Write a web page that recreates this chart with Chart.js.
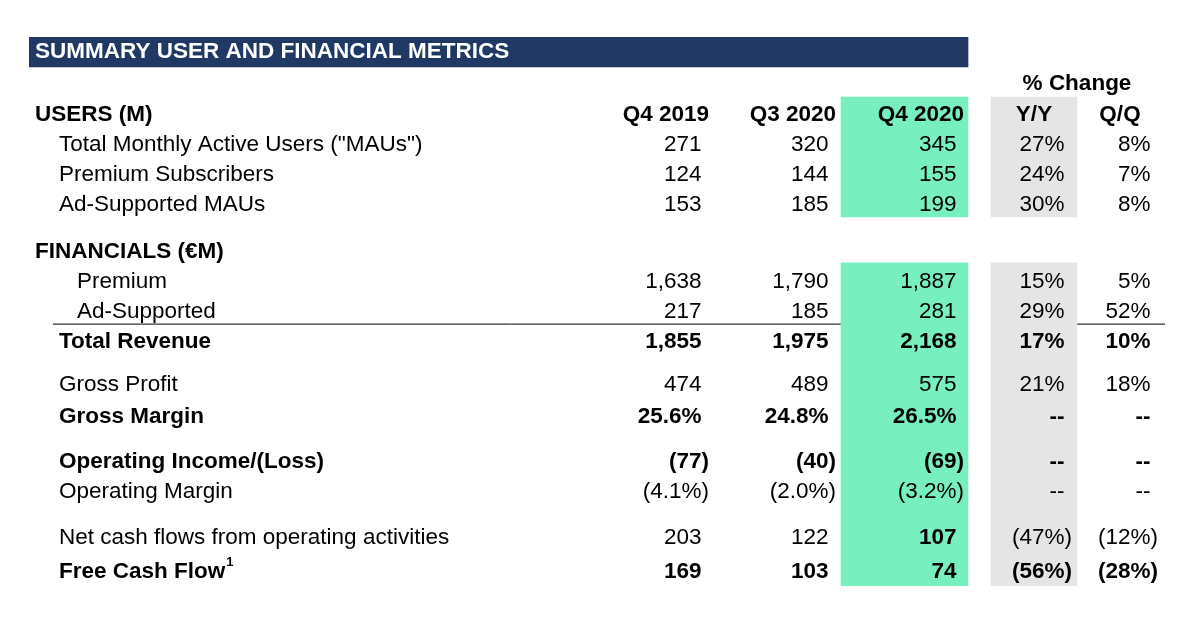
<!DOCTYPE html>
<html>
<head>
<meta charset="utf-8">
<script src="https://cdn.jsdelivr.net/npm/chart.js@4.4.1/dist/chart.umd.min.js"></script>
<style>
  html, body { margin: 0; padding: 0; background: #fff; }
  canvas { display: block; }
</style>
</head>
<body>
<canvas id="metrics-table" width="1200" height="627"></canvas>
<script>
// Table data
var title = 'SUMMARY USER AND FINANCIAL METRICS';
var changeTitle = '% Change';
var periods = ['Q4 2019', 'Q3 2020', 'Q4 2020'];
var changes = ['Y/Y', 'Q/Q'];
var sections = ['USERS (M)', 'FINANCIALS (€M)'];
var rowLabels = [
  'Total Monthly Active Users ("MAUs")',
  'Premium Subscribers',
  'Ad-Supported MAUs',
  'Premium',
  'Ad-Supported',
  'Total Revenue',
  'Gross Profit',
  'Gross Margin',
  'Operating Income/(Loss)',
  'Operating Margin',
  'Net cash flows from operating activities',
  'Free Cash Flow'
];
var q42019 = [271, 124, 153, 1638, 217, 1855, 474, 25.6, -77, -4.1, 203, 169];
var q32020 = [320, 144, 185, 1790, 185, 1975, 489, 24.8, -40, -2.0, 122, 103];
var q42020 = [345, 155, 199, 1887, 281, 2168, 575, 26.5, -69, -3.2, 107, 74];
var yoy = [27, 24, 30, 15, 29, 17, 21, null, null, null, -47, -56];
var qoq = [8, 7, 8, 5, 52, 10, 18, null, null, null, -12, -28];

// Row formats: n = number, p = percent with one decimal
var rowFormat = ['n', 'n', 'n', 'n', 'n', 'n', 'n', 'p', 'n', 'p', 'n', 'n'];
var boldRows = [false, false, false, false, false, true, false, true, true, false, false, true];
var boldCells = [[10, 2]]; // net cash flow, Q4 2020
var indentLevel = [1, 1, 1, 2, 2, 1, 1, 1, 1, 1, 1, 1];

// Layout (x in table units across the table width, y in row slots)
var rowSlot = [1, 2, 3, 5.57, 6.57, 7.57, 9, 10.07, 11.57, 12.57, 14.1, 15.22];
var sectionSlot = [0, 4.57];
var headerSlot = 0, changeTitleSlot = -1.03, titleSlot = -2.1;
var indentX = [6, 30, 48];
var colRight = [680, 807, 935, 1043, 1129];
var changeCenter = [1005, 1091];
var superNote = '1';

var FONT = '"Liberation Sans", Arial, sans-serif';
var SIZE = '22.5px ';

function fmt(v, kind) {
  if (v === null) return '--';
  var a = Math.abs(v);
  var s;
  if (kind === 'p') s = a.toFixed(1) + '%';
  else if (kind === 'c') s = a + '%';
  else s = a.toLocaleString('en-US');
  return v < 0 ? '(' + s + ')' : s;
}

function isBoldCell(r, c) {
  if (boldRows[r]) return true;
  return boldCells.some(function(b) { return b[0] === r && b[1] === c; });
}

// Draws the text of every cell at positions taken from the chart scales
var tableText = {
  id: 'tableText',
  afterDatasetsDraw: function(chart) {
    var ctx = chart.ctx;
    var x = chart.scales.x, y = chart.scales.y;
    ctx.save();
    ctx.textBaseline = 'middle';

    // title bar text
    ctx.font = 'bold ' + SIZE + FONT;
    ctx.fillStyle = '#ffffff';
    ctx.textAlign = 'left';
    ctx.fillText(title, x.getPixelForValue(indentX[0]), y.getPixelForValue(titleSlot));

    ctx.fillStyle = '#000000';
    ctx.textAlign = 'center';
    ctx.fillText(changeTitle, x.getPixelForValue((changeCenter[0] + changeCenter[1]) / 2), y.getPixelForValue(changeTitleSlot));

    // section headers
    ctx.textAlign = 'left';
    sections.forEach(function(s, i) {
      ctx.fillText(s, x.getPixelForValue(indentX[0]), y.getPixelForValue(sectionSlot[i]));
    });

    // column headers
    ctx.textAlign = 'right';
    periods.forEach(function(p, i) {
      ctx.fillText(p, x.getPixelForValue(colRight[i]), y.getPixelForValue(headerSlot));
    });
    ctx.textAlign = 'center';
    changes.forEach(function(p, i) {
      ctx.fillText(p, x.getPixelForValue(changeCenter[i]), y.getPixelForValue(headerSlot));
    });

    // rows
    var cols = [q42019, q32020, q42020, yoy, qoq];
    rowLabels.forEach(function(label, r) {
      var py = y.getPixelForValue(rowSlot[r]);
      ctx.font = (boldRows[r] ? 'bold ' : '') + SIZE + FONT;
      ctx.textAlign = 'left';
      var lx = x.getPixelForValue(indentX[indentLevel[r]]);
      ctx.fillText(label, lx, py);
      if (r === rowLabels.length - 1) {
        var w = ctx.measureText(label).width;
        ctx.font = 'bold 13px ' + FONT;
        ctx.fillText(superNote, lx + w + 1, py - 9);
      }
      cols.forEach(function(series, c) {
        var kind = c >= 3 ? 'c' : rowFormat[r];
        var txt = fmt(series[r], kind);
        ctx.font = (isBoldCell(r, c) ? 'bold ' : '') + SIZE + FONT;
        ctx.textAlign = 'right';
        var rx = x.getPixelForValue(colRight[c]);
        if (txt.charAt(txt.length - 1) !== ')') rx -= ctx.measureText(')').width;
        ctx.fillText(txt, rx, py);
      });
    });
    ctx.restore();
  }
};

var ctx = document.getElementById('metrics-table').getContext('2d');
var unit = 1; // table units are one pixel wide
var chart = new Chart(ctx, {
  type: 'bar',
  data: {
    datasets: [
      {
        label: 'title bar',
        data: [{ x: 469.5, y: [-2.6, -1.6] }],
        backgroundColor: '#1f3864',
        barThickness: 939 * unit
      },
      {
        label: 'current quarter',
        data: [{ x: 875.5, y: [-0.6, 3.4] }, { x: 875.5, y: [4.93, 15.7] }],
        backgroundColor: '#78efbe',
        barThickness: 127 * unit
      },
      {
        label: 'y/y',
        data: [{ x: 1005, y: [-0.6, 3.4] }, { x: 1005, y: [4.93, 15.7] }],
        backgroundColor: '#e5e5e5',
        barThickness: 86 * unit
      },
      {
        type: 'line',
        label: 'rule',
        data: [{ x: 24, y: 6.97 }, { x: 939, y: 6.97 }],
        borderColor: '#000000',
        borderWidth: 1,
        pointRadius: 0
      },
      {
        type: 'line',
        label: 'rule 2',
        data: [{ x: 962, y: 6.97 }, { x: 1136, y: 6.97 }],
        borderColor: '#000000',
        borderWidth: 1,
        pointRadius: 0
      }
    ]
  },
  options: {
    responsive: false,
    animation: false,
    devicePixelRatio: 1,
    layout: { padding: { left: 29, right: 35, top: 37, bottom: 41 } },
    datasets: {
      bar: { grouped: false, barPercentage: 1, categoryPercentage: 1, borderWidth: 0 }
    },
    scales: {
      x: { type: 'linear', min: 0, max: 1136, offset: false, display: false },
      y: { type: 'linear', min: -2.6, max: 15.7, reverse: true, stacked: false, display: false }
    },
    plugins: {
      legend: { display: false },
      tooltip: { enabled: false }
    }
  },
  plugins: [tableText]
});
</script>
</body>
</html>
